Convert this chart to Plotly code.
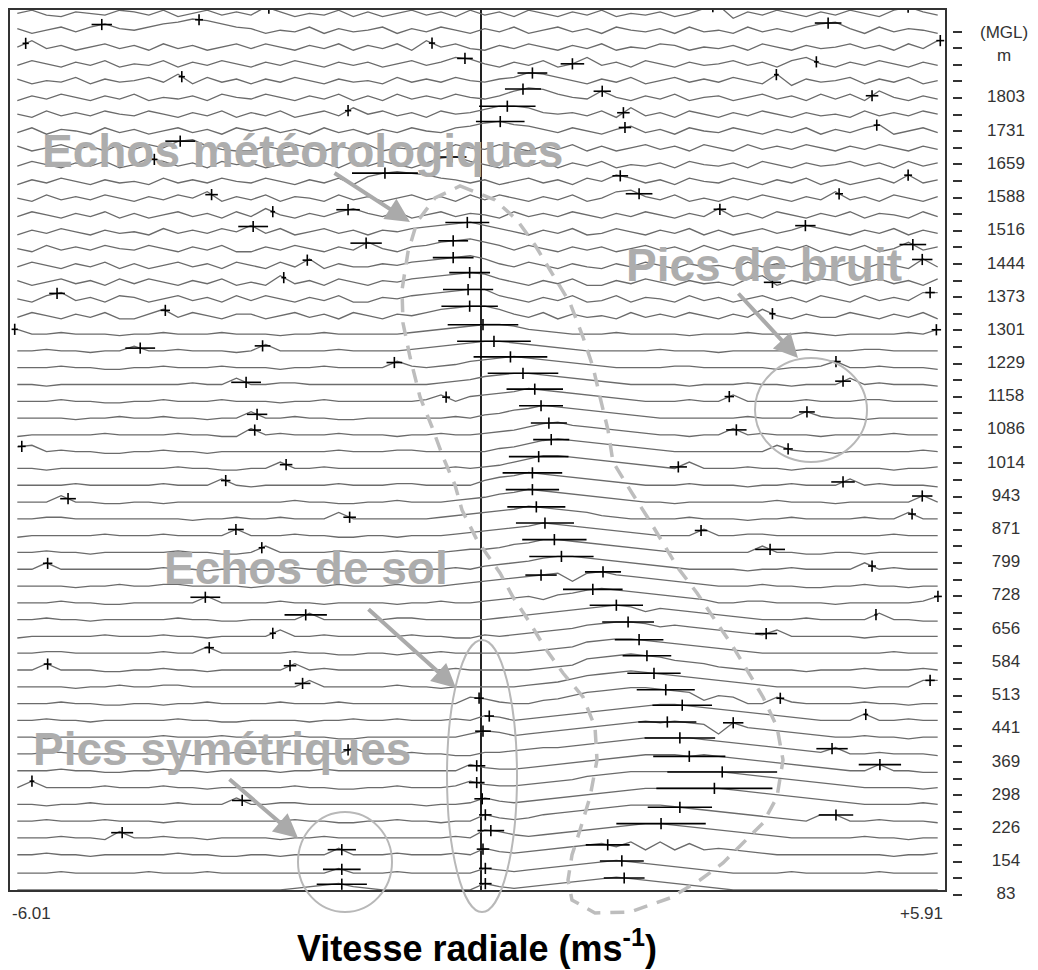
import numpy as np
import plotly.graph_objects as go

# ---------------- data ----------------
VEL_MIN, VEL_MAX = -6.01, 5.91          # radial velocity axis (m/s)
N_BINS = 64                              # Doppler bins per spectrum
BASE_LEVEL = 3                           # spectral unit sitting on the gate line
AMP_UNIT = 0.0953                        # gate spacing per spectral unit

# Doppler spectra, one string per range gate, from the top gate (52) down to gate 0.
# Each character is a base-36 amplitude for one velocity bin.
SPECTRA_TOP_DOWN = [
    "46325436 53624635 38524362 52463526 35264253 62435247 91536425 36426853",  # 52
    "52463685 4689ba86 52436253 46253642 53624635 26435263 42635368 95263542",  # 51
    "48352463 52635246 36425362 53628463 25364253 62436524 35264253 46352638",  # 50
    "36425362 43625364 25364253 52463587 42536248 35264253 46352684 25364253",  # 49
    "52436253 46382635 25364253 42635364 35698642 53624635 36428153 46253624",  # 48
    "25364253 62435264 36425362 52635364 358a9643 84253624 52463526 36284253",  # 47
    "42635364 36425362 53624638 46352645 79985453 62835264 25364253 42635364",  # 46
    "36254263 52463526 46352635 25364367 9a875364 25735264 36425362 53682463",  # 45
    "52463526 36489532 25364253 62435264 36425362 52463526 42635364 25364253",  # 44
    "36425362 48635264 52463526 36425896 42536253 62435264 35264253 46352635",  # 43
    "25364253 42635364 36425362 79a98653 52463526 48635264 36425362 52463835",  # 42
    "42635364 25364825 36254263 52463526 36425362 48953624 25364253 83526425",  # 41
    "36425362 52463526 38425368 53624635 42635364 25364253 83526425 36254263",  # 40
    "25364253 42635364 83624635 2546789a 86425362 36425362 52463586 42536253",  # 39
    "42635364 36425362 25364253 8425689a 86364253 52463526 36425362 53624835",  # 38
    "36425362 52463526 42638253 3546789a 85364253 25364253 42635364 36254283",  # 37
    "52463526 36425362 42835264 2546789a 96425362 25364253 42682536 52463526",  # 36
    "42683526 52463526 36425362 2546789a a6425362 36254263 52463526 42635388",  # 35
    "36425362 25836425 52463526 4254689a a8536253 42635364 25384253 36425362",  # 34
    "63343332 33433343 33233433 33345678 99865433 34333323 33433343 23333436",  # 33
    "33433233 63343332 37333343 33345678 99876543 33334333 23333343 33443333",  # 32
    "33343322 33433343 33233433 33743457 89a98765 43333443 33332334 73343332",  # 31
    "33233333 33334337 33443333 33333456 89aa9876 54333323 33433233 37343332",  # 30
    "33343322 33433343 33233433 33334736 789ba987 65433343 37333343 33443333",  # 29
    "33332334 33433233 73343322 33333343 5689ba98 76543333 33433374 33233333",  # 28
    "23333343 33343322 73433343 33233433 4568ab98 76543323 37343332 33334333",  # 27
    "67343322 33433233 33333343 33443333 3568aba9 87654333 33337433 23333343",  # 26
    "33233333 33343322 33733433 33333343 4579bba9 87654373 33433233 33332334",  # 25
    "33334333 33433373 23333343 33443333 689ba987 65433343 33233433 37343332",  # 24
    "33373322 33233333 33343322 33433345 689ba987 65433233 33334333 23333373",  # 23
    "33443333 33332334 33433373 33333456 789ba987 54333343 33233433 33433733",  # 22
    "23333343 33433337 33343322 33233345 6789ba98 76543337 33443333 33334333",  # 21
    "33433233 33343322 37333343 33433345 5689bba9 87654333 33373322 33233333",  # 20
    "33733333 33433233 33343322 33333343 5678abba 98765433 33233433 33734333",  # 19
    "33332334 33443333 23333343 33433345 6789ab6b ca987654 33343322 33433233",  # 18
    "33343322 33333733 33433233 33233433 4567589b cba98765 33443333 23333347",  # 17
    "33433233 33343322 33337333 33443333 3456789a bcb8a987 65433343 33373322",  # 16
    "23333343 33433233 33733433 33343322 4345678a bccb9a98 76547333 33233333",  # 15
    "33443333 33433733 33343322 33233433 3334567a bccba987 65433333 33334333",  # 14
    "33733322 33433233 33373433 33333343 3333456a bcdcb987 54333323 33433343",  # 13
    "33332334 33443333 33337333 33433233 3334568a bcdcba98 76543333 33233377",  # 12
    "33343322 33233433 33433343 33333337 6433568a bcddcba5 87337433 33433233",  # 11
    "33433233 33343322 33332334 33433343 65345678 9abcddcb a9876543 33733433",  # 10
    "33233333 33433343 33343322 33333335 76456789 abcdcdcb 5c987654 33433233",  # 9
    "33443333 33332334 33433337 33343322 44567789 abcddddc ba987654 73343332",  # 8
    "33343322 33433233 33233433 33333337 54456789 abcdddcd cba98765 43373322",  # 7
    "37333343 33433233 33343322 33433347 5445678a bcdddddd dcba9876 54333323",  # 6
    "33233433 33343337 33443333 33332334 75456789 abcddddd dcba9876 54333343",  # 5
    "33433343 33233333 33343322 33433233 7545789a bcdddcba 98765437 73343332",  # 4
    "33343327 33433233 33233433 33333343 87545678 9abccba9 87654333 33433233",  # 3
    "33433233 33343322 33233373 33433343 75456789 a8b6b6a6 76543333 33332334",  # 2
    "22232222 23222322 22222252 22322222 54345678 9a987654 32222322 22232222",  # 1
    "22222222 22222222 22234564 32222222 64345678 9a987654 32222222 22222222",  # 0
]

# Moment estimates (+ markers): mean velocity and half spectral width (m/s),
# per gate from the top gate (52) down to gate 0.
MARK_VEL_TOP_DOWN = [
    [-2.71, 2.95, 5.44], [-4.84, -3.60, 4.42], [-5.81, -0.63, 5.85], [-0.21, 1.16, 4.27],
    [-3.82, 0.65, 3.76], [0.53, 1.54, 4.98], [-1.70, 0.33, 1.81], [0.24, 1.83, 5.04],
    [-3.84], [-4.17, -0.38], [-1.23, 1.77, 5.44], [-3.44, 2.01, 4.56],
    [-2.66, -1.70, 3.04], [-2.91, -0.18, 4.13], [-1.47, -0.36, 5.50], [-2.22, -0.36, 5.62],
    [-2.52, -0.15, 3.71], [-5.41, -0.17, 5.72], [-4.03, -0.15, 3.71], [-5.95, 0.02, 5.80],
    [-4.35, -2.79, 0.16], [-1.11, 0.37, 4.52], [-3.00, 0.53, 4.61], [-0.45, 0.68, 3.16],
    [-2.86, 0.76, 4.15], [-2.89, 0.86, 3.25], [-5.86, 0.89, 3.91], [-2.49, 0.73, 2.51],
    [-3.26, 0.65, 4.61], [-5.27, 0.65, 5.62], [-1.68, 0.70, 5.49], [-3.13, 0.81, 2.80],
    [-2.80, 0.93, 3.68], [-5.53, 1.02, 4.98], [0.76, 1.55], [-3.52, 1.42, 5.82],
    [-2.24, 1.72, 5.03], [-2.66, 1.87, 3.63], [-3.47, 2.01], [-5.53, -2.44, 2.11],
    [-2.28, 2.20, 5.72], [-0.03, 2.35, 3.81], [0.10, 2.56, 4.90], [0.02, 2.37, 3.21],
    [-1.70, 2.53, 4.47], [-0.06, 2.65, 5.08], [-5.73, -0.06, 3.07], [-3.05, 0.01, 2.97],
    [0.05, 2.53, 4.52], [-4.58, 0.12, 2.29], [-1.78, 0.02, 1.61], [-1.78, 0.05, 1.79],
    [-1.78, 0.05, 1.82],
]
MARK_HW_TOP_DOWN = [
    [0.03, 0.03, 0.15], [0.13, 0.05, 0.17], [0.04, 0.04, 0.05], [0.10, 0.15, 0.03],
    [0.04, 0.19, 0.03], [0.23, 0.11, 0.08], [0.04, 0.36, 0.08], [0.31, 0.08, 0.04],
    [0.19], [0.04, 0.19], [0.42, 0.10, 0.05], [0.08, 0.17, 0.05],
    [0.03, 0.15, 0.08], [0.19, 0.28, 0.13], [0.20, 0.19, 0.17], [0.06, 0.26, 0.13],
    [0.03, 0.26, 0.11], [0.10, 0.32, 0.06], [0.06, 0.36, 0.04], [0.04, 0.45, 0.06],
    [0.19, 0.10, 0.47], [0.10, 0.47, 0.06], [0.19, 0.45, 0.10], [0.05, 0.36, 0.06],
    [0.13, 0.28, 0.10], [0.08, 0.23, 0.13], [0.05, 0.23, 0.06], [0.08, 0.38, 0.11],
    [0.06, 0.38, 0.15], [0.10, 0.34, 0.13], [0.08, 0.37, 0.05], [0.10, 0.37, 0.08],
    [0.04, 0.41, 0.19], [0.06, 0.41, 0.05], [0.20, 0.23], [0.19, 0.38, 0.05],
    [0.27, 0.34, 0.02], [0.04, 0.33, 0.14], [0.06, 0.31], [0.05, 0.08, 0.31],
    [0.10, 0.34, 0.06], [0.06, 0.37, 0.05], [0.06, 0.38, 0.03], [0.10, 0.37, 0.13],
    [0.06, 0.45, 0.20], [0.11, 0.46, 0.27], [0.03, 0.10, 0.70], [0.13, 0.10, 0.74],
    [0.08, 0.41, 0.22], [0.14, 0.17, 0.57], [0.18, 0.08, 0.28], [0.24, 0.08, 0.28],
    [0.32, 0.08, 0.26],
]

# Range-gate height labels (m above ground level)
HEIGHT_LABELS = [83, 154, 226, 298, 369, 441, 513, 584, 656, 728, 799, 871, 943,
                 1014, 1086, 1158, 1229, 1301, 1373, 1444, 1516, 1588, 1659, 1731, 1803]

# ---------------- geometry helpers (page layout only) ----------------
W, H = 1038, 970
ML, MR, MT, MB = 10, 0, 10, 70
PW, PH = W - ML - MR, H - MT - MB


def px(x):
    return (x - ML) / PW


def py(y):
    return (H - MB - y) / PH


n_gates = len(SPECTRA_TOP_DOWN)
dv = (VEL_MAX - VEL_MIN) / N_BINS
bin_vel = VEL_MIN + (np.arange(N_BINS) + 0.5) * dv

# ---------------- spectra trace ----------------
xs, ys = [], []
gate_vals = {}
for row, s in enumerate(SPECTRA_TOP_DOWN):
    gate = n_gates - 1 - row
    vals = np.array([int(c, 36) for c in s.replace(" ", "")], dtype=float)
    assert len(vals) == N_BINS, (gate, len(vals))
    gate_vals[gate] = vals
    yy = gate + (vals - BASE_LEVEL) * AMP_UNIT
    xs.extend(bin_vel.tolist() + [None])
    ys.extend(yy.tolist() + [None])

fig = go.Figure()
fig.add_trace(go.Scatter(x=xs, y=ys, mode="lines",
                         line=dict(color="#6b6b6b", width=1.3),
                         hoverinfo="skip", showlegend=False))

# ---------------- moment markers ----------------
mx, my, mhw = [], [], []
for row, (vl, hl) in enumerate(zip(MARK_VEL_TOP_DOWN, MARK_HW_TOP_DOWN)):
    gate = n_gates - 1 - row
    for v, hw in zip(vl, hl):
        level = np.interp(v, bin_vel, gate_vals[gate])
        mx.append(v)
        my.append(gate + (level - BASE_LEVEL) * AMP_UNIT)
        mhw.append(hw)

fig.add_trace(go.Scatter(
    x=mx, y=my, mode="markers",
    marker=dict(symbol="line-ns", size=8, color="black",
                line=dict(width=1.6, color="black")),
    error_x=dict(type="data", array=mhw, visible=True, thickness=1.6,
                 width=0, color="black"),
    hoverinfo="skip", showlegend=False))

# ---------------- height labels (right column) ----------------
gate_step_m = (HEIGHT_LABELS[-1] - HEIGHT_LABELS[0]) / (2 * (len(HEIGHT_LABELS) - 1))
tick_vals = [HEIGHT_LABELS[0] + i * gate_step_m for i in range(n_gates)]

m_per_px = (HEIGHT_LABELS[-1] - HEIGHT_LABELS[0]) / (895 - 98)
y2_lo = HEIGHT_LABELS[0] - (H - MB - 895) * m_per_px
y2_hi = HEIGHT_LABELS[-1] + (98 - MT) * m_per_px

label_x = (1006 - 953) / (W - MR - 953)
fig.add_trace(go.Scatter(
    x=[label_x] * len(HEIGHT_LABELS), y=HEIGHT_LABELS,
    text=[str(h) for h in HEIGHT_LABELS], mode="text",
    textposition="middle center",
    textfont=dict(family="Liberation Sans, Arial", size=17, color="#333"),
    xaxis="x2", yaxis="y2", hoverinfo="skip", showlegend=False, cliponaxis=False))

fig.update_layout(
    width=W, height=H,
    margin=dict(l=ML, r=MR, t=MT, b=MB),
    paper_bgcolor="white", plot_bgcolor="white",
    xaxis=dict(domain=[0, px(945)], range=[VEL_MIN, VEL_MAX], showgrid=False,
               showticklabels=False, ticks="", zeroline=True, zerolinecolor="#222",
               zerolinewidth=1.5, showline=True, mirror=True, linecolor="#333",
               linewidth=1.5, anchor="y"),
    yaxis=dict(domain=[py(890), py(10)], range=[-0.1, 52.3], showgrid=False,
               showticklabels=False, ticks="", zeroline=False, showline=True,
               mirror=True, linecolor="#333", linewidth=1.5, anchor="x"),
    xaxis2=dict(domain=[px(953), 1], range=[0, 1], visible=False, anchor="y2"),
    yaxis2=dict(domain=[0, 1], range=[y2_lo, y2_hi], anchor="x2", side="left",
                tickmode="array", tickvals=tick_vals, ticks="inside", ticklen=9,
                tickwidth=1.5, tickcolor="#333", showticklabels=False,
                showgrid=False, zeroline=False, showline=False),
)

# ---------------- annotations ----------------
ann = []
GRAY_TXT = "#adadad"
big_font = dict(family="Liberation Sans, Arial", size=46, color=GRAY_TXT)
for txt, cx, cy in [("Echos météorologiques", 302, 151), ("Pics de bruit", 764, 265),
                    ("Echos de sol", 306, 568), ("Pics symétriques", 222, 749)]:
    ann.append(dict(text="<b>%s</b>" % txt, x=px(cx), y=py(cy), xref="paper",
                    yref="paper", xanchor="center", yanchor="middle",
                    showarrow=False, font=big_font))

for (tx, ty), (hx, hy) in [((333, 172), (410, 222)), ((737, 292), (798, 358)),
                           ((367, 608), (456, 688)), ((228, 778), (298, 838))]:
    ann.append(dict(text="", x=px(hx), y=py(hy), xref="paper", yref="paper",
                    ax=tx - hx, ay=ty - hy, showarrow=True, arrowhead=2,
                    arrowsize=1.2, arrowwidth=4, arrowcolor="#aaaaaa", standoff=0))

small_font = dict(family="Liberation Sans, Arial", size=17, color="#333")
for txt, cx, cy in [("(MGL)", 1004, 32), ("m", 1004, 55),
                    ("%.2f" % VEL_MIN, 31, 913), ("+%.2f" % VEL_MAX, 921, 913)]:
    ann.append(dict(text=txt, x=px(cx), y=py(cy), xref="paper", yref="paper",
                    xanchor="center", yanchor="middle", showarrow=False,
                    font=small_font))
ann.append(dict(text="<b>Vitesse radiale (ms<sup>-1</sup>)</b>", x=px(477), y=py(946),
                xref="paper", yref="paper", xanchor="center", yanchor="middle",
                showarrow=False,
                font=dict(family="Liberation Sans, Arial", size=36, color="black")))
fig.update_layout(annotations=ann)

# ---------------- ellipses & dashed outline ----------------
shapes = []
for x0, x1, y0, y1 in [(755, 867, 358, 462), (447, 517, 640, 912), (298, 392, 812, 912)]:
    shapes.append(dict(type="circle", xref="paper", yref="paper",
                       x0=px(x0), x1=px(x1), y0=py(y1), y1=py(y0),
                       line=dict(color="#b8b8b8", width=2)))

OUTLINE = [(460, 186), (495, 200), (517, 220), (535, 245), (550, 270), (570, 303),
           (583, 337), (593, 367), (600, 397), (608, 430), (613, 462), (632, 493),
           (648, 518), (663, 543), (678, 568), (697, 593), (715, 620), (732, 645),
           (747, 670), (763, 697), (777, 727), (783, 760), (777, 797), (763, 823),
           (743, 843), (723, 863), (700, 880), (670, 898), (630, 912), (595, 913),
           (572, 900), (568, 880), (572, 855), (580, 830), (590, 797), (597, 760),
           (595, 727), (583, 697), (563, 673), (545, 648), (530, 623), (513, 597),
           (500, 573), (477, 540), (462, 510), (455, 485), (443, 457), (432, 427),
           (420, 397), (410, 357), (403, 323), (402, 290), (408, 252), (417, 222),
           (435, 198)]
path = "M " + " L ".join("%.5f,%.5f" % (px(a), py(b)) for a, b in OUTLINE) + " Z"
shapes.append(dict(type="path", xref="paper", yref="paper", path=path,
                   line=dict(color="#bdbdbd", width=3.5, dash="14px,10px")))
fig.update_layout(shapes=shapes)

fig.write_html("out.html")
